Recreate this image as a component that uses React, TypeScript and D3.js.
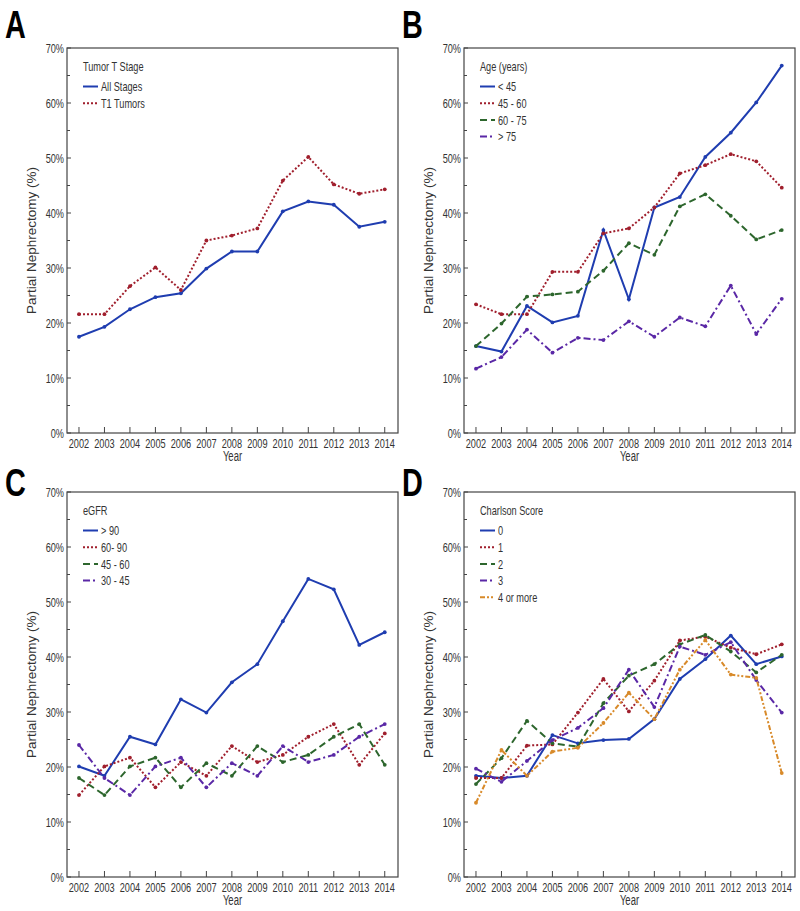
import React from "react";
import * as d3 from "d3";

// years on the x axis
const years = [2002, 2003, 2004, 2005, 2006, 2007, 2008, 2009, 2010, 2011, 2012, 2013, 2014];
const yTickValues = [0, 10, 20, 30, 40, 50, 60, 70];
const yMinorTicks = [5, 15, 25, 35, 45, 55, 65];

// A - tumor T stage
const allStages = [17.5, 19.3, 22.5, 24.7, 25.4, 29.9, 33.0, 33.0, 40.3, 42.1, 41.5, 37.5, 38.4];
const t1Tumors = [21.6, 21.6, 26.7, 30.1, 26.0, 35.0, 35.9, 37.2, 45.9, 50.2, 45.2, 43.5, 44.3];

// B - age
const ageUnder45 = [15.8, 14.8, 23.1, 20.1, 21.3, 36.9, 24.3, 41.0, 42.9, 50.2, 54.6, 60.1, 66.8];
const age45to60 = [23.4, 21.6, 21.6, 29.3, 29.3, 36.3, 37.2, 41.0, 47.2, 48.7, 50.7, 49.4, 44.6];
const age60to75 = [15.8, 19.9, 24.8, 25.2, 25.7, 29.5, 34.5, 32.4, 41.2, 43.4, 39.5, 35.2, 36.9];
const ageOver75 = [11.7, 13.8, 18.8, 14.6, 17.3, 16.9, 20.3, 17.5, 21.0, 19.4, 26.8, 18.0, 24.4];

// C - eGFR
const egfrOver90 = [20.1, 18.4, 25.5, 24.1, 32.3, 29.9, 35.4, 38.7, 46.5, 54.2, 52.3, 42.2, 44.5];
const egfr60to90 = [14.9, 20.1, 21.7, 16.3, 20.9, 18.4, 23.8, 20.9, 22.2, 25.5, 27.8, 20.4, 26.1];
const egfr45to60 = [18.0, 14.9, 20.1, 21.7, 16.3, 20.7, 18.4, 23.8, 20.9, 22.2, 25.5, 27.8, 20.4];
const egfr30to45 = [24.0, 18.0, 14.9, 20.1, 21.7, 16.3, 20.7, 18.4, 23.8, 20.9, 22.2, 25.5, 27.8];

// D - Charlson score
const charlson0 = [18.4, 18.0, 18.4, 25.8, 24.3, 24.9, 25.1, 28.7, 36.0, 39.6, 43.9, 38.7, 40.1];
const charlson1 = [18.0, 18.0, 23.9, 24.1, 29.9, 36.0, 30.1, 35.7, 43.0, 43.7, 41.7, 40.5, 42.3];
const charlson2 = [16.9, 21.6, 28.4, 24.3, 23.7, 31.6, 36.6, 38.7, 42.3, 44.0, 41.0, 37.2, 40.4];
const charlson3 = [19.7, 17.3, 21.1, 24.9, 27.1, 30.7, 37.7, 30.9, 41.9, 40.4, 42.7, 35.8, 29.9];
const charlson4plus = [13.5, 23.1, 18.4, 22.8, 23.5, 28.0, 33.5, 28.7, 37.7, 43.1, 36.8, 36.2, 18.9];

const LINE_STYLES: Record<string, { color: string; dash: string; width: number }> = {
  solid: { color: "#1f3db0", dash: "none", width: 2 },
  dotted: { color: "#a01f2d", dash: "2,2", width: 2 },
  dashed: { color: "#2d662d", dash: "7,4", width: 2 },
  dashDot: { color: "#5a28a6", dash: "7,3,2,3", width: 2 },
  dashDotDot: { color: "#d88a2a", dash: "5,2,2,2,2,2", width: 2 },
};

const FONT = "'Liberation Sans', Arial, sans-serif";

// condensed text: the reference uses a narrow face, so squeeze a regular one
function NText(props: {
  x: number;
  y: number;
  size: number;
  anchor?: string;
  sx?: number;
  bold?: boolean;
  fill?: string;
  children: React.ReactNode;
}) {
  const { x, y, size, anchor = "start", sx = 0.68, bold = false, fill = "#333", children } = props;
  return (
    <text
      transform={`translate(${x},${y}) scale(${sx},1)`}
      textAnchor={anchor}
      fontFamily={FONT}
      fontSize={size}
      fontWeight={bold ? "bold" : "normal"}
      fill={fill}
    >
      {children}
    </text>
  );
}

type Series = { label: string; values: number[]; style: string };

type PanelProps = {
  letter: string;
  left: number;
  top: number;
  title: string;
  series: Series[];
};

function Panel({ letter, left, top, title, series }: PanelProps) {
  const width = 331;
  const height = 385;
  const right = left + width;
  const bottom = top + height;

  const x = d3.scaleLinear().domain([2001.53, 2014.52]).range([left, right]);
  const y = d3.scaleLinear().domain([0, 70]).range([bottom, top]);
  const line = d3
    .line<number>()
    .x((_, i) => x(years[i]))
    .y((d) => y(d));

  const axisColor = "#444";
  const letterY = top < 100 ? 38 : 496;

  return (
    <g>
      <NText x={left - 62} y={letterY} size={39} sx={0.74} bold fill="#000">
        {letter}
      </NText>
      <rect x={left} y={top} width={width} height={height} fill="none" stroke={axisColor} strokeWidth={1.2} />

      {/* y ticks */}
      {yTickValues.map((t) => (
        <g key={"y" + t}>
          <line x1={left} x2={left + 4} y1={y(t)} y2={y(t)} stroke={axisColor} />
          <NText x={left - 3} y={y(t) + 4.5} size={13.5} anchor="end">
            {t}%
          </NText>
        </g>
      ))}
      {yMinorTicks.map((t) => (
        <line key={"ym" + t} x1={left} x2={left + 3} y1={y(t)} y2={y(t)} stroke={axisColor} />
      ))}

      {/* x ticks */}
      {years.map((yr) => (
        <g key={"x" + yr}>
          <line x1={x(yr)} x2={x(yr)} y1={bottom} y2={bottom - 6} stroke={axisColor} />
          <NText x={x(yr)} y={bottom + 14.5} size={13.5} anchor="middle">
            {yr}
          </NText>
        </g>
      ))}

      <NText x={(left + right) / 2} y={bottom + 28} size={14} anchor="middle">
        Year
      </NText>
      <text
        transform={`translate(${left - 31},${(top + bottom) / 2}) rotate(-90)`}
        textAnchor="middle"
        fontFamily={FONT}
        fontSize={13.5}
        fill="#333"
      >
        Partial Nephrectomy (%)
      </text>

      {/* series */}
      {series.map((s) => {
        const st = LINE_STYLES[s.style];
        return (
          <g key={s.label}>
            <path d={line(s.values) || ""} fill="none" stroke={st.color} strokeWidth={st.width} strokeDasharray={st.dash} />
            {s.values.map((v, i) => (
              <circle key={i} cx={x(years[i])} cy={y(v)} r={1.9} fill={st.color} />
            ))}
          </g>
        );
      })}

      {/* legend */}
      <NText x={left + 16} y={top + 23} size={13.5}>
        {title}
      </NText>
      {series.map((s, i) => {
        const st = LINE_STYLES[s.style];
        const ly = top + 38.5 + i * 16.7;
        return (
          <g key={"lg" + s.label}>
            <line x1={left + 16} x2={left + 31} y1={ly} y2={ly} stroke={st.color} strokeWidth={2} strokeDasharray={st.dash} />
            <NText x={left + 34} y={ly + 4.8} size={13.5}>
              {s.label}
            </NText>
          </g>
        );
      })}
    </g>
  );
}

export default function App() {
  return (
    <svg width={800} height={911} style={{ position: "absolute", left: 0, top: 0, background: "#fff" }}>
      <rect width={800} height={911} fill="#fff" />
      <Panel
        letter="A"
        left={67}
        top={48}
        title="Tumor T Stage"
        series={[
          { label: "All Stages", values: allStages, style: "solid" },
          { label: "T1 Tumors", values: t1Tumors, style: "dotted" },
        ]}
      />
      <Panel
        letter="B"
        left={464}
        top={48}
        title="Age (years)"
        series={[
          { label: "< 45", values: ageUnder45, style: "solid" },
          { label: "45 - 60", values: age45to60, style: "dotted" },
          { label: "60 - 75", values: age60to75, style: "dashed" },
          { label: "> 75", values: ageOver75, style: "dashDot" },
        ]}
      />
      <Panel
        letter="C"
        left={67}
        top={492}
        title="eGFR"
        series={[
          { label: "> 90", values: egfrOver90, style: "solid" },
          { label: "60- 90", values: egfr60to90, style: "dotted" },
          { label: "45 - 60", values: egfr45to60, style: "dashed" },
          { label: "30 - 45", values: egfr30to45, style: "dashDot" },
        ]}
      />
      <Panel
        letter="D"
        left={464}
        top={492}
        title="Charlson Score"
        series={[
          { label: "0", values: charlson0, style: "solid" },
          { label: "1", values: charlson1, style: "dotted" },
          { label: "2", values: charlson2, style: "dashed" },
          { label: "3", values: charlson3, style: "dashDot" },
          { label: "4 or more", values: charlson4plus, style: "dashDotDot" },
        ]}
      />
    </svg>
  );
}
